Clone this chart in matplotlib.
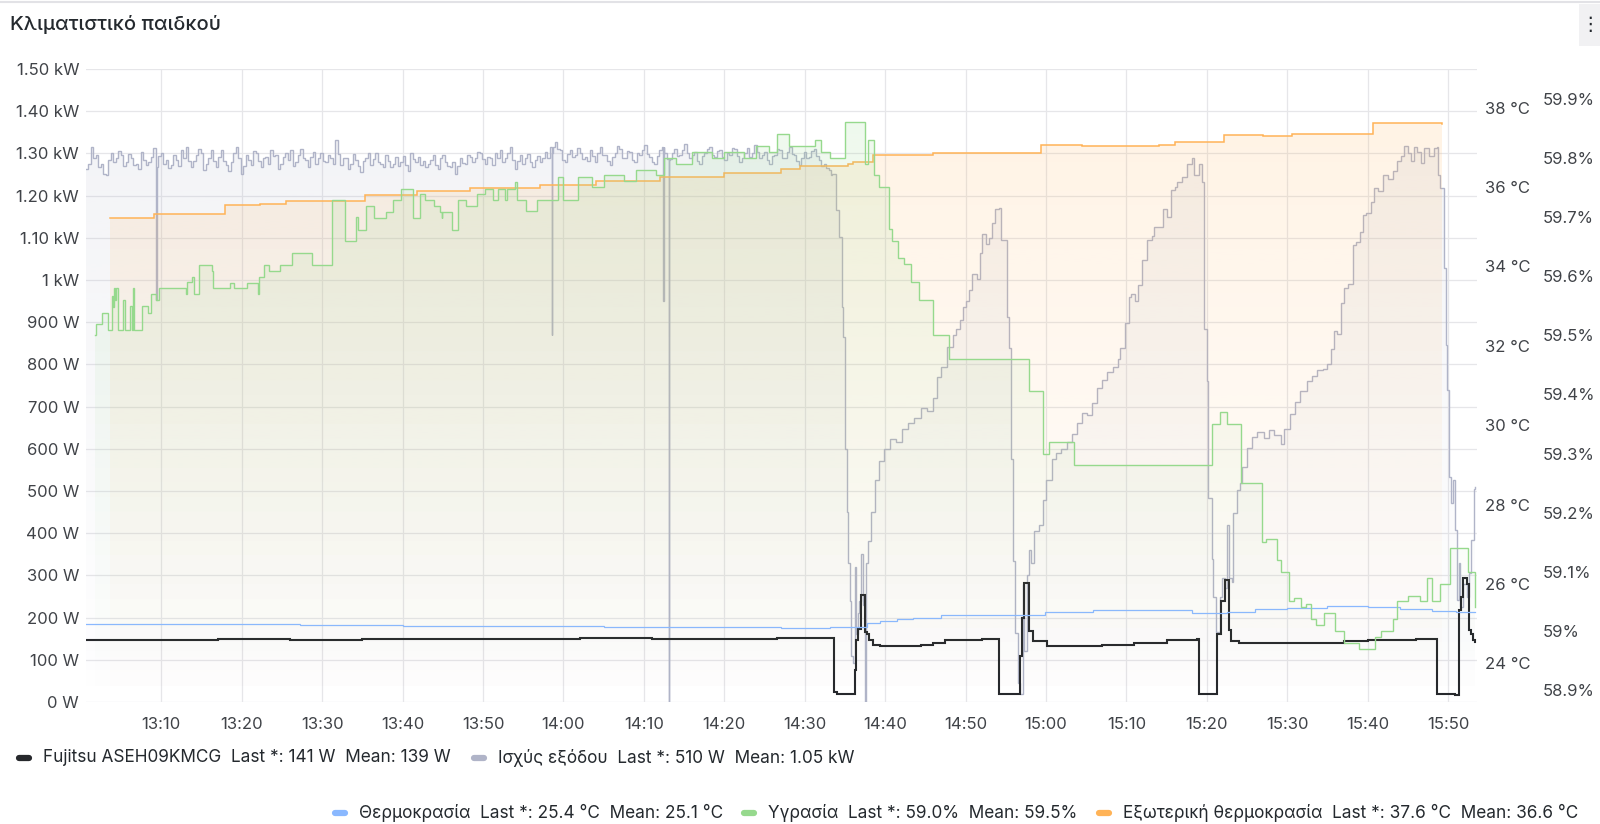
import numpy as np
import matplotlib
matplotlib.use("Agg")
import matplotlib.pyplot as plt
from matplotlib.colors import to_rgb
from matplotlib.lines import Line2D
from matplotlib.patches import Polygon, Rectangle

plt.rcParams['font.family'] = ['Inter', 'DejaVu Sans']

TITLE = "Κλιματιστικό παιδκού"

# time axis: minutes after 13:00
x_ticks = [10, 20, 30, 40, 50, 60, 70, 80, 90, 100, 110, 120, 130, 140, 150, 160, 170]
x_tick_labels = ["13:10", "13:20", "13:30", "13:40", "13:50", "14:00", "14:10", "14:20", "14:30",
                 "14:40", "14:50", "15:00", "15:10", "15:20", "15:30", "15:40", "15:50"]
x_range = (0.63, 173.6)

w_ticks = [0, 100, 200, 300, 400, 500, 600, 700, 800, 900, 1000, 1100, 1200, 1300, 1400, 1500]
w_tick_labels = ["0 W", "100 W", "200 W", "300 W", "400 W", "500 W", "600 W", "700 W", "800 W", "900 W",
                 "1 kW", "1.10 kW", "1.20 kW", "1.30 kW", "1.40 kW", "1.50 kW"]
c_ticks = [24, 26, 28, 30, 32, 34, 36, 38]
c_tick_labels = ["24 °C", "26 °C", "28 °C", "30 °C", "32 °C", "34 °C", "36 °C", "38 °C"]
h_ticks = [58.9, 59.0, 59.1, 59.2, 59.3, 59.4, 59.5, 59.6, 59.7, 59.8, 59.9]
h_tick_labels = ["58.9%", "59%", "59.1%", "59.2%", "59.3%", "59.4%", "59.5%", "59.6%", "59.7%", "59.8%", "59.9%"]

# Ισχύς εξόδου (W) - steady noisy part, one sample every 0.31 min from 0.63
grey_start, grey_step = 0.63, 0.31
grey_steady_w = [
    1264, 1276, 1315, 1290, 1296, 1268, 1276, 1252, 1248, 1284, 1300, 1279, 1288, 1305, 1296, 1270, 1280, 1299, 1288, 1272,
    1276, 1262, 1303, 1285, 1272, 1280, 1292, 1312, 1268, 1294, 1300, 1276, 1284, 1265, 1272, 1296, 1284, 1270, 1307, 1288,
    1315, 1281, 1268, 1283, 1296, 1310, 1300, 1260, 1276, 1290, 1307, 1281, 1268, 1292, 1307, 1283, 1272, 1258, 1280, 1301,
    1315, 1290, 1252, 1271, 1296, 1284, 1272, 1305, 1300, 1282, 1268, 1289, 1292, 1276, 1307, 1294, 1296, 1263, 1276, 1291,
    1300, 1285, 1307, 1270, 1280, 1296, 1311, 1289, 1284, 1267, 1292, 1304, 1276, 1288, 1300, 1281, 1280, 1297, 1288, 1275,
    1331, 1298, 1272, 1290, 1288, 1262, 1276, 1299, 1284, 1270, 1256, 1281, 1288, 1302, 1272, 1286, 1300, 1279, 1276, 1268,
    1296, 1283, 1268, 1276, 1292, 1271, 1280, 1294, 1272, 1259, 1300, 1287, 1280, 1291, 1272, 1283, 1268, 1276, 1284, 1297,
    1272, 1262, 1288, 1296, 1280, 1271, 1268, 1279, 1252, 1270, 1288, 1277, 1276, 1297, 1292, 1280, 1288, 1304, 1300, 1286,
    1276, 1292, 1288, 1273, 1300, 1290, 1307, 1279, 1288, 1301, 1315, 1284, 1264, 1281, 1296, 1274, 1288, 1298, 1280, 1268,
    1284, 1295, 1280, 1290, 1303, 1288, 1315, 1301, 1327, 1310, 1307, 1284, 1280, 1299, 1307, 1292, 1296, 1312, 1300, 1286,
    1292, 1281, 1307, 1294, 1280, 1302, 1315, 1296, 1296, 1283, 1272, 1291, 1300, 1318, 1311, 1290, 1288, 1305, 1303, 1285,
    1280, 1301, 1296, 1309, 1319, 1298, 1292, 1279, 1276, 1293, 1307, 1316, 1300, 1286, 1284, 1302, 1311, 1294, 1296, 1309,
    1323, 1302, 1288, 1297, 1303, 1283, 1276, 1294, 1300, 1310, 1315, 1297, 1292, 1305, 1307, 1291, 1284, 1300, 1296, 1312,
    1311, 1295, 1280, 1289, 1300, 1313, 1292, 1301, 1319, 1304, 1288, 1296, 1303, 1284, 1276, 1293, 1296, 1310, 1307, 1290,
    1288, 1304, 1315, 1299, 1296, 1281, 1272, 1290, 1303, 1288, 1292, 1306, 1311, 1293, 1284, 1270, 1276, 1265, 1260, 1248,
]
grey_spike_t = [9.34, 58.6, 72.4, 73.1]
grey_spike_w = [952, 869, 950, 0]
grey_tail_t = [
    93.4, 93.9, 94.3, 94.6, 94.8, 95.0, 95.2, 95.4, 95.6, 95.8, 96.0, 96.2, 96.4, 96.6, 96.8, 97.0,
    97.3, 97.5, 97.65, 97.9, 98.2, 98.7, 99.3, 99.8, 100.6, 101.4, 102.1, 102.9, 103.6, 104.4, 105.2,
    105.9, 106.4, 106.9, 107.7, 108.5, 108.8, 109.3, 109.7, 110.0, 110.4, 110.8, 111.4, 111.8, 112.0,
    112.5, 112.9, 113.3, 113.7, 114.2, 114.4, 114.9, 115.1, 115.4, 115.6, 115.9, 116.2, 116.5, 116.8,
    117.1, 117.3, 117.6, 117.9, 118.2, 118.5, 119.1, 119.6, 120.0, 120.7, 121.3, 121.9, 122.6, 123.2,
    123.8, 124.5, 125.1, 125.7, 126.4, 127.0, 127.6, 128.3, 128.9, 129.2, 129.8, 130.3, 130.6, 131.1,
    131.5, 131.9, 132.6, 133.2, 133.4, 134.0, 134.6, 135.1, 135.6, 136.0, 136.3, 136.9, 137.5, 138.2,
    138.4, 139.0, 139.4, 139.6, 139.7, 140.0, 140.2, 140.6, 140.8, 141.2, 141.7, 141.9, 142.3, 142.5,
    142.8, 143.1, 143.3, 143.7, 144.1, 144.4, 145.0, 145.6, 146.2, 147.1, 147.7, 148.3, 149.2, 149.6,
    150.4, 151.0, 151.6, 152.5, 153.1, 153.7, 154.5, 155.0, 155.4, 155.8, 156.2, 156.7, 157.1, 157.5,
    158.2, 158.6, 159.0, 159.4, 159.8, 160.4, 160.8, 161.3, 161.9, 162.5, 163.1, 163.7, 164.1, 164.5,
    165.0, 165.4, 165.8, 166.2, 166.6, 167.0, 167.6, 168.2, 168.6, 168.8, 169.0, 169.5, 169.7, 169.9,
    170.1, 170.4, 170.6, 170.9, 171.1, 171.3, 171.5, 171.9, 172.4, 172.6, 172.8, 173.2, 173.4,
]
grey_tail_w = [
    1252, 1165, 1102, 936, 865, 600, 450, 330, 240, 110, 92, 320, 160, 210, 240, 350,
    230, 0, 330, 382, 450, 527, 570, 600, 624, 615, 648, 660, 672, 696, 690,
    720, 769, 793, 841, 870, 884, 905, 936, 950, 976, 1015, 1003, 1063, 1110,
    1085, 1100, 1134, 1169, 1170, 1094, 1094, 913, 840, 575, 334, 164, 44, 20,
    280, 120, 300, 360, 330, 406, 420, 479, 527, 575, 590, 600, 615, 636,
    660, 684, 680, 708, 745, 764, 781, 793, 812, 838, 898, 960, 967, 950,
    988, 1047, 1094, 1104, 1126, 1126, 1169, 1150, 1213, 1220, 1232, 1244, 1276, 1288,
    1250, 1276, 1232, 1086, 883, 760, 484, 339, 249, 167, 250, 294, 270, 420,
    294, 285, 447, 502, 520, 557, 602, 629, 640, 625, 645, 632, 611, 647,
    683, 711, 738, 760, 772, 787, 790, 801, 837, 878, 872, 946, 982, 990,
    1082, 1090, 1113, 1154, 1158, 1186, 1217, 1210, 1249, 1240, 1258, 1281, 1295, 1317,
    1300, 1281, 1316, 1303, 1277, 1313, 1295, 1313, 1316, 1250, 1217, 1028, 846, 739,
    534, 471, 526, 407, 242, 330, 226, 280, 250, 305, 384, 505, 510,
]

# Fujitsu ASEH09KMCG (W)
black_t = [0.63, 8.0, 17.0, 26.0, 35.0, 44.0, 53.0, 62.0, 71.0, 80.0, 86.5, 93.6, 94.0, 96.2, 96.4,
           96.6, 97.0, 97.5, 97.7, 98.0, 98.5, 99.4, 104.5, 106.0, 107.5, 112.0, 114.1, 116.8, 117.0,
           117.3, 117.9, 118.4, 120.1, 127.0, 131.0, 135.0, 138.8, 139.0, 141.3, 141.8, 142.3, 142.7,
           143.0, 144.0, 152.0, 157.0, 160.0, 164.0, 166.0, 168.6, 170.9, 171.3, 171.6, 171.9, 172.4,
           172.6, 172.8, 173.1, 173.4]
black_w = [147, 148, 149, 148, 150, 149, 150, 151, 150, 150, 151, 24, 20, 76, 147,
           173, 253, 165, 161, 147, 135, 133, 136, 140, 147, 149, 20, 110, 200,
           281, 168, 145, 133, 135, 140, 147, 149, 20, 160, 240, 289, 171,
           144, 140, 140, 144, 147, 146, 150, 20, 17, 218, 249, 294, 280,
           170, 160, 147, 141]

# Θερμοκρασία (°C)
blue_t = [0.63, 14.0, 27.3, 40.0, 52.1, 65.0, 77.0, 87.0, 93.2, 97.7, 99.4, 101.5, 103.5, 106.9,
          119.9, 125.9, 138.2, 142.5, 146.0, 150.0, 155.0, 160.0, 164.0, 168.0, 171.0, 173.4]
blue_c = [25.00, 24.98, 24.97, 24.95, 24.93, 24.92, 24.91, 24.90, 24.92, 25.01, 25.07, 25.11, 25.13,
          25.22, 25.29, 25.34, 25.26, 25.30, 25.36, 25.40, 25.44, 25.42, 25.38, 25.33, 25.30, 25.30]

# Εξωτερική θερμοκρασία (°C)
orange_t = [3.62, 9.09, 17.92, 22.28, 25.47, 35.34, 41.80, 48.40, 57.1, 64.0, 72.0, 80.0, 87.0, 89.4,
            95.4, 96.0, 98.5, 106.0, 119.4, 124.5, 134.0, 136.1, 142.2, 147.0, 150.6, 160.7, 169.3]
orange_c = [35.21, 35.31, 35.55, 35.58, 35.64, 35.81, 35.91, 35.98, 36.06, 36.15, 36.25, 36.35, 36.45,
            36.53, 36.58, 36.64, 36.82, 36.86, 37.05, 37.03, 37.07, 37.13, 37.31, 37.29, 37.34, 37.62, 37.60]

# Υγρασία (%)
green_t = [1.75, 1.88, 2.59, 3.41, 3.91, 4.03, 4.16, 4.28, 4.37, 4.58, 5.27, 5.49, 6.11, 6.32, 6.44,
           6.60, 7.56, 8.38, 8.68, 9.34, 9.75, 13.07, 13.23, 13.78, 14.07, 14.65, 16.27, 16.47, 18.54,
           19.04, 20.62, 21.99, 22.19, 22.77, 23.43, 24.76, 26.22, 28.78, 31.27, 32.85, 34.22, 34.50,
           35.46, 36.46, 37.95, 38.86, 39.78, 41.27, 42.18, 42.80, 43.92, 44.66, 44.88, 44.95, 46.12,
           46.94, 47.90, 49.23, 50.26, 51.29, 51.91, 52.75, 52.96, 53.99, 54.20, 55.36, 56.77, 59.38,
           59.93, 61.87, 63.5, 65.0, 67.5, 69.0, 71.5, 72.5, 74.0, 76.0, 78.5, 80.0, 82.5, 84.0, 85.5,
           86.5, 88.0, 91.3, 92.0, 93.1, 95.0, 97.5, 97.9, 98.6, 99.2, 100.5, 100.8, 101.6, 102.4,
           103.2, 104.2, 105.9, 108.0, 117.9, 119.6, 120.4, 123.5, 140.6, 141.6, 142.5, 144.3, 146.9,
           147.4, 148.7, 149.2, 150.2, 150.9, 151.7, 152.3, 152.9, 153.6, 154.6, 156.0, 157.1, 158.9,
           160.9, 161.7, 163.2, 163.7, 165.0, 166.5, 167.4, 168.0, 169.0, 170.3, 172.5, 173.3, 173.4]
green_h = [59.500, 59.519, 59.538, 59.508, 59.567, 59.547, 59.579, 59.559, 59.579, 59.508, 59.559,
           59.508, 59.549, 59.508, 59.579, 59.508, 59.549, 59.538, 59.569, 59.559, 59.579, 59.569,
           59.590, 59.599, 59.569, 59.619, 59.609, 59.579, 59.589, 59.579, 59.589, 59.569, 59.599,
           59.619, 59.609, 59.619, 59.639, 59.619, 59.729, 59.659, 59.700, 59.678, 59.718, 59.698,
           59.708, 59.729, 59.747, 59.698, 59.738, 59.729, 59.718, 59.708, 59.698, 59.708, 59.678,
           59.729, 59.718, 59.738, 59.747, 59.729, 59.747, 59.729, 59.747, 59.759, 59.729, 59.710,
           59.729, 59.767, 59.729, 59.767, 59.75, 59.77, 59.76, 59.78, 59.77, 59.80, 59.79, 59.81,
           59.80, 59.81, 59.80, 59.82, 59.81, 59.84, 59.82, 59.83, 59.81, 59.80, 59.86, 59.79, 59.83,
           59.77, 59.75, 59.68, 59.66, 59.63, 59.62, 59.59, 59.56, 59.50, 59.46, 59.405, 59.30, 59.32,
           59.28, 59.35, 59.37, 59.35, 59.25, 59.15, 59.155, 59.12, 59.10, 59.05, 59.055, 59.04, 59.045,
           59.02, 59.01, 59.03, 59.00, 58.98, 58.97, 58.99, 59.00, 59.02, 59.05, 59.06, 59.05, 59.09,
           59.05, 59.08, 59.14, 59.10, 59.04, 59.04]

# legend entries: (text, colour, marker x in px)
legend_row1 = [("Fujitsu ASEH09KMCG  Last *: 141 W  Mean: 139 W", "#26282c", 16),
               ("Ισχύς εξόδου  Last *: 510 W  Mean: 1.05 kW", "#B0B4C8", 471)]
legend_row2 = [("Θερμοκρασία  Last *: 25.4 °C  Mean: 25.1 °C", "#8AB8FF", 332),
               ("Υγρασία  Last *: 59.0%  Mean: 59.5%", "#96D98D", 741),
               ("Εξωτερική θερμοκρασία  Last *: 37.6 °C  Mean: 36.6 °C", "#FFB357", 1096)]

W_LIM = (0, 1500)
C_LIM = (23.025, 38.975)
H_LIM = (58.88, 59.95)
TEXT = "#24292e"
TICK = "#404348"
FS = 12
LEG_FS = 12.4


def step_xy(t, v):
    t = np.asarray(t, float)
    v = np.asarray(v, float)
    return np.repeat(t, 2)[1:], np.repeat(v, 2)[:-1]


def draw_series(ax, t, v, color, lw, ylim, amax=0.17):
    xs, ys = step_xy(t, v)
    img = np.zeros((256, 1, 4))
    img[..., :3] = to_rgb(color)
    img[:, 0, 3] = np.linspace(0, amax, 256)
    verts = np.column_stack([np.r_[xs[0], xs, xs[-1]], np.r_[ylim[0], ys, ylim[0]]])
    poly = Polygon(verts, closed=True, facecolor="none", edgecolor="none")
    ax.add_patch(poly)
    im = ax.imshow(img, extent=[x_range[0], x_range[1], ylim[0], ylim[1]], origin="lower",
                   aspect="auto", interpolation="bilinear", zorder=1)
    im.set_clip_path(poly)
    ax.plot(xs, ys, color=color, lw=lw, zorder=3, solid_joinstyle="miter")


# grey series: steady samples + narrow spikes + tail
steady_t = grey_start + grey_step * np.arange(len(grey_steady_w))
pts = list(zip(steady_t, grey_steady_w))
for ts, ws in zip(grey_spike_t, grey_spike_w):
    back = grey_steady_w[int((ts - grey_start) // grey_step)]
    pts += [(ts, ws), (ts + 0.12, back)]
pts += list(zip(grey_tail_t, grey_tail_w))
pts.sort()
grey_t = [p[0] for p in pts]
grey_w = [p[1] for p in pts]

fig = plt.figure(figsize=(16, 8.24), dpi=100)
ax = fig.add_axes([86 / 1600, 1 - 702 / 824, (1477 - 86) / 1600, (702 - 69) / 824])
ax2 = ax.twinx()
ax3 = ax.twinx()

draw_series(ax, grey_t, grey_w, "#B0B4C8", 1.0, W_LIM)
draw_series(ax, black_t, black_w, "#26282c", 1.5, W_LIM, amax=0.05)
draw_series(ax2, blue_t, blue_c, "#8AB8FF", 0.9, C_LIM, amax=0.08)
draw_series(ax2, orange_t, orange_c, "#FFB357", 1.1, C_LIM)
draw_series(ax3, green_t, green_h, "#96D98D", 1.0, H_LIM)

for a, lim in ((ax, W_LIM), (ax2, C_LIM), (ax3, H_LIM)):
    a.set_xlim(*x_range)
    a.set_ylim(*lim)
    for s in a.spines.values():
        s.set_visible(False)

ax.set_xticks(x_ticks, x_tick_labels)
ax.set_yticks(w_ticks, w_tick_labels)
ax.grid(True, color="#e6e6e9", lw=0.9)
ax.set_axisbelow(True)
ax.tick_params(axis="x", length=0, pad=11, labelsize=FS, labelcolor=TICK)
ax.tick_params(axis="y", length=0, pad=5, labelsize=FS, labelcolor=TICK)

ax2.set_yticks(c_ticks, c_tick_labels)
ax2.tick_params(axis="y", length=0, pad=6, labelsize=FS, labelcolor=TICK)
ax3.set_yticks(h_ticks, h_tick_labels)
ax3.tick_params(axis="y", length=0, pad=47.5, labelsize=FS, labelcolor=TICK)

# title and panel decorations
fig.text(10 / 1600, 1 - 25 / 824, TITLE, fontsize=14.5, fontweight=500, color=TEXT, va="center", ha="left")
fig.add_artist(Line2D([0, 1], [1 - 1.5 / 824] * 2, color="#e2e2e6", lw=1.5))
fig.add_artist(Rectangle((1579 / 1600, 1 - 46 / 824), 21 / 1600, 42 / 824, facecolor="#f1f1f3",
                         edgecolor="none"))
fig.text(1590 / 1600, 1 - 24 / 824, "⋮", fontsize=14, color=TEXT, ha="center", va="center",
         family=["DejaVu Sans"])


def legend_row(items, y_px):
    y = 1 - y_px / 824
    for label, color, x in items:
        fig.add_artist(Line2D([(x + 3) / 1600, (x + 13) / 1600], [y, y],
                              color=color, lw=4.5, solid_capstyle="round"))
        fig.text((x + 27) / 1600, y, label, fontsize=LEG_FS, color=TEXT, va="center", ha="left")


legend_row(legend_row1, 758)
legend_row(legend_row2, 813)

fig.savefig("out.png", dpi=100, facecolor="white")
